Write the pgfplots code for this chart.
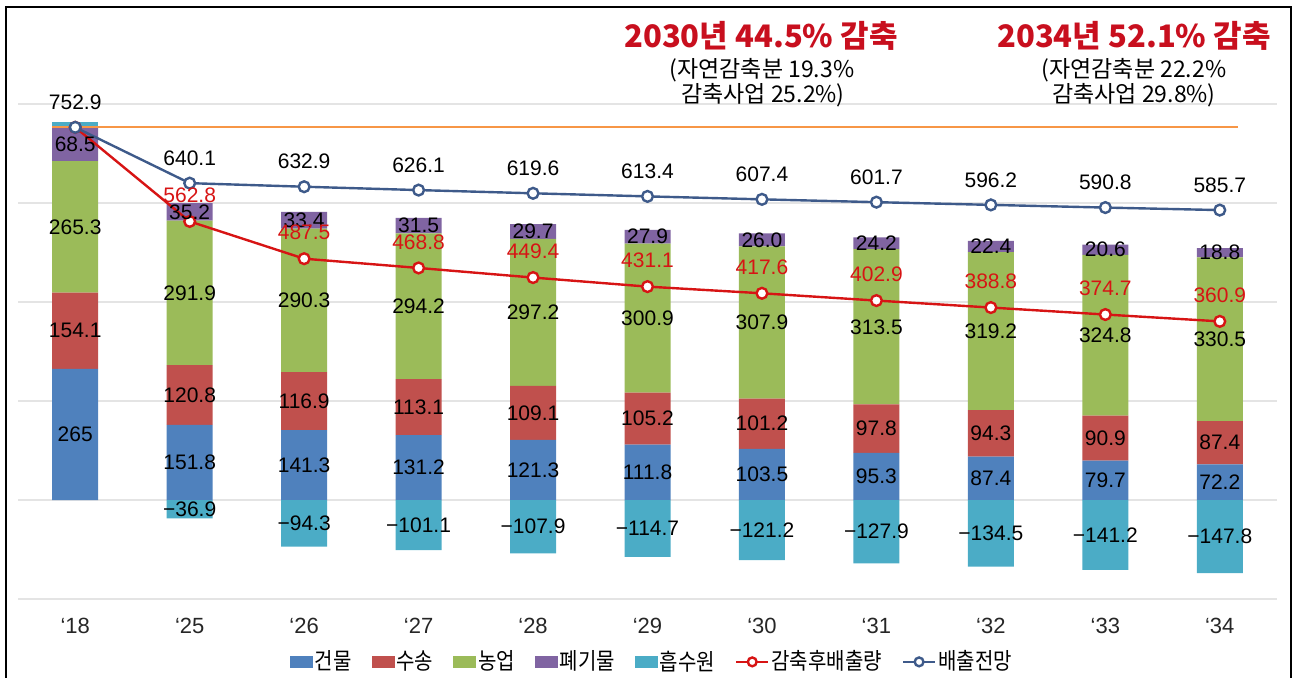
\documentclass[border=0pt]{standalone}
\usepackage{pgfplots}
\pgfplotsset{compat=1.18}
\usepackage{pgfplotstable}
\usepackage{fontspec}
\setmainfont{Liberation Sans}
\newfontfamily\kr{Noto Sans CJK KR}
\newfontfamily\krc[FakeStretch=0.87]{Noto Sans CJK KR}
\definecolor{cBld}{RGB}{79,129,189}
\definecolor{cTrn}{RGB}{192,80,77}
\definecolor{cAgr}{RGB}{155,187,89}
\definecolor{cWst}{RGB}{128,100,162}
\definecolor{cAbs}{RGB}{75,172,198}
\definecolor{cOrg}{RGB}{247,150,70}
\definecolor{cRed}{RGB}{215,20,20}
\definecolor{cBlu}{RGB}{62,90,138}
\definecolor{cGrid}{RGB}{228,228,228}
\definecolor{cTitle}{RGB}{200,15,30}

\pgfplotstableread{
x a b c d e en f red blue
0 265 154.1 265.3 68.5 0 0 10 752.9 752.9
1 151.8 120.8 291.9 35.2 -36.9 36.9 0 562.8 640.1
2 141.3 116.9 290.3 33.4 -94.3 94.3 0 487.5 632.9
3 131.2 113.1 294.2 31.5 -101.1 101.1 0 468.8 626.1
4 121.3 109.1 297.2 29.7 -107.9 107.9 0 449.4 619.6
5 111.8 105.2 300.9 27.9 -114.7 114.7 0 431.1 613.4
6 103.5 101.2 307.9 26.0 -121.2 121.2 0 417.6 607.4
7 95.3 97.8 313.5 24.2 -127.9 127.9 0 402.9 601.7
8 87.4 94.3 319.2 22.4 -134.5 134.5 0 388.8 596.2
9 79.7 90.9 324.8 20.6 -141.2 141.2 0 374.7 590.8
10 72.2 87.4 330.5 18.8 -147.8 147.8 0 360.9 585.7
}\data

\pgfplotsset{
  common/.style={
    at={(9pt,39pt)}, anchor=south west,
    scale only axis, width=629.5pt, height=247.5pt,
    xmin=-0.5, xmax=10.5, ymin=-200, ymax=800,
  },
  sq/.style={legend image code/.code={\fill[#1] (0pt,-2.6pt) rectangle (11pt,2.6pt);}},
  lnleg/.style={legend image code/.code={\draw[##1, mark size=2.2pt, mark repeat=2, mark phase=2] plot coordinates {(0pt,0pt) (8pt,0pt) (16pt,0pt)};}},
  lbl/.style={draw=none, mark=none, forget plot, nodes near coords,
    point meta=explicit symbolic,
    nodes near coords style={anchor=center, text=black, font=\fontsize{10.5}{12}\selectfont, inner sep=0pt}},
}

\begin{document}
\begin{tikzpicture}
% stacked bars
\begin{axis}[common, ybar stacked, bar width=23pt,
  axis line style={draw=none}, major tick length=0pt,
  ytick={-200,0,...,800}, yticklabels={,,,,,,},
  ymajorgrids, grid style={cGrid, line width=0.8pt},
  xtick={0,...,10},
  xticklabels={‘18,‘25,‘26,‘27,‘28,‘29,‘30,‘31,‘32,‘33,‘34},
  xticklabel style={font=\fontsize{11}{13}\selectfont, text=black!85, yshift=-6pt},
]
\addplot[fill=cAbs, draw=none] table[x=x,y=e]{\data};
\addplot[fill=cBld, draw=none] table[x=x,y=a]{\data};
\addplot[fill=cTrn, draw=none] table[x=x,y=b]{\data};
\addplot[fill=cAgr, draw=none] table[x=x,y=c]{\data};
\addplot[fill=cWst, draw=none] table[x=x,y=d]{\data};
\addplot[fill=cAbs, draw=none] table[x=x,y=f]{\data};
\end{axis}
% lines, labels, legend
\begin{axis}[common, hide axis,
  legend style={at={(0.5036,-0.127)}, anchor=center, draw=none, fill=none,
    legend columns=-1, font=\krc\fontsize{11.5}{13}\selectfont,
    nodes={inner xsep=1pt},
    /tikz/every odd column/.append style={column sep=0pt},
    /tikz/every even column/.append style={column sep=9pt}},
]
\addlegendimage{sq=cBld}\addlegendentry{건물}
\addlegendimage{sq=cTrn}\addlegendentry{수송}
\addlegendimage{sq=cAgr}\addlegendentry{농업}
\addlegendimage{sq=cWst}\addlegendentry{폐기물}
\addlegendimage{sq=cAbs}\addlegendentry{흡수원}
\addplot[cOrg, line width=1.1pt, mark=none, forget plot] coordinates {(-0.2,752.9) (10.16,752.9)};
\addplot[cRed, line width=1.2pt, mark=*, mark size=2.7pt, mark options={fill=white, line width=1.2pt}, lnleg]
  table[x=x,y=red]{\data};
\addlegendentry{감축후배출량}
\addplot[cBlu, line width=1.2pt, mark=*, mark size=2.7pt, mark options={fill=white, line width=1.2pt}, lnleg]
  table[x=x,y=blue]{\data};
\addlegendentry{배출전망}
% bar labels
\addplot[lbl] table[x=x, y expr=\thisrow{a}/2, meta=a]{\data};
\addplot[lbl] table[x=x, y expr=\thisrow{a}+\thisrow{b}/2, meta=b]{\data};
\addplot[lbl] table[x=x, y expr=\thisrow{a}+\thisrow{b}+\thisrow{c}/2, meta=c]{\data};
\addplot[lbl] table[x=x, y expr=\thisrow{a}+\thisrow{b}+\thisrow{c}+\thisrow{d}/2, meta=d]{\data};
\addplot[lbl, skip coords between index={0}{1}, nodes near coords={−\pgfplotspointmeta}] table[x=x, y expr=\thisrow{e}/2, meta=en]{\data};
% line labels
\addplot[lbl, skip coords between index={0}{1}, nodes near coords style={text=cRed, yshift=13pt}] table[x=x, y=red, meta=red]{\data};
\addplot[lbl, nodes near coords style={yshift=12.5pt}] table[x=x, y=blue, meta=blue]{\data};
\end{axis}
% titles
\node[text=cTitle, font=\kr\bfseries\fontsize{15.5}{18}\selectfont] at (380.5pt,320.5pt) {2030년 44.5\% 감축};
\node[font=\kr\fontsize{11.5}{13}\selectfont] at (381pt,303.5pt) {(자연감축분 19.3\%};
\node[font=\kr\fontsize{11.5}{13}\selectfont] at (381.5pt,291pt) {감축사업 25.2\%)};
\node[text=cTitle, font=\kr\bfseries\fontsize{15.5}{18}\selectfont] at (567pt,320.5pt) {2034년 52.1\% 감축};
\node[font=\kr\fontsize{11.5}{13}\selectfont] at (567pt,303.5pt) {(자연감축분 22.2\%};
\node[font=\kr\fontsize{11.5}{13}\selectfont] at (567pt,291pt) {감축사업 29.8\%)};
% frame
\draw[line width=1.1pt] (3pt,-5pt) -- (3pt,335pt) -- (645.5pt,335pt) -- (645.5pt,-5pt);
\pgfresetboundingbox
\useasboundingbox (0,0) rectangle (647pt,338.5pt);
\end{tikzpicture}
\end{document}
